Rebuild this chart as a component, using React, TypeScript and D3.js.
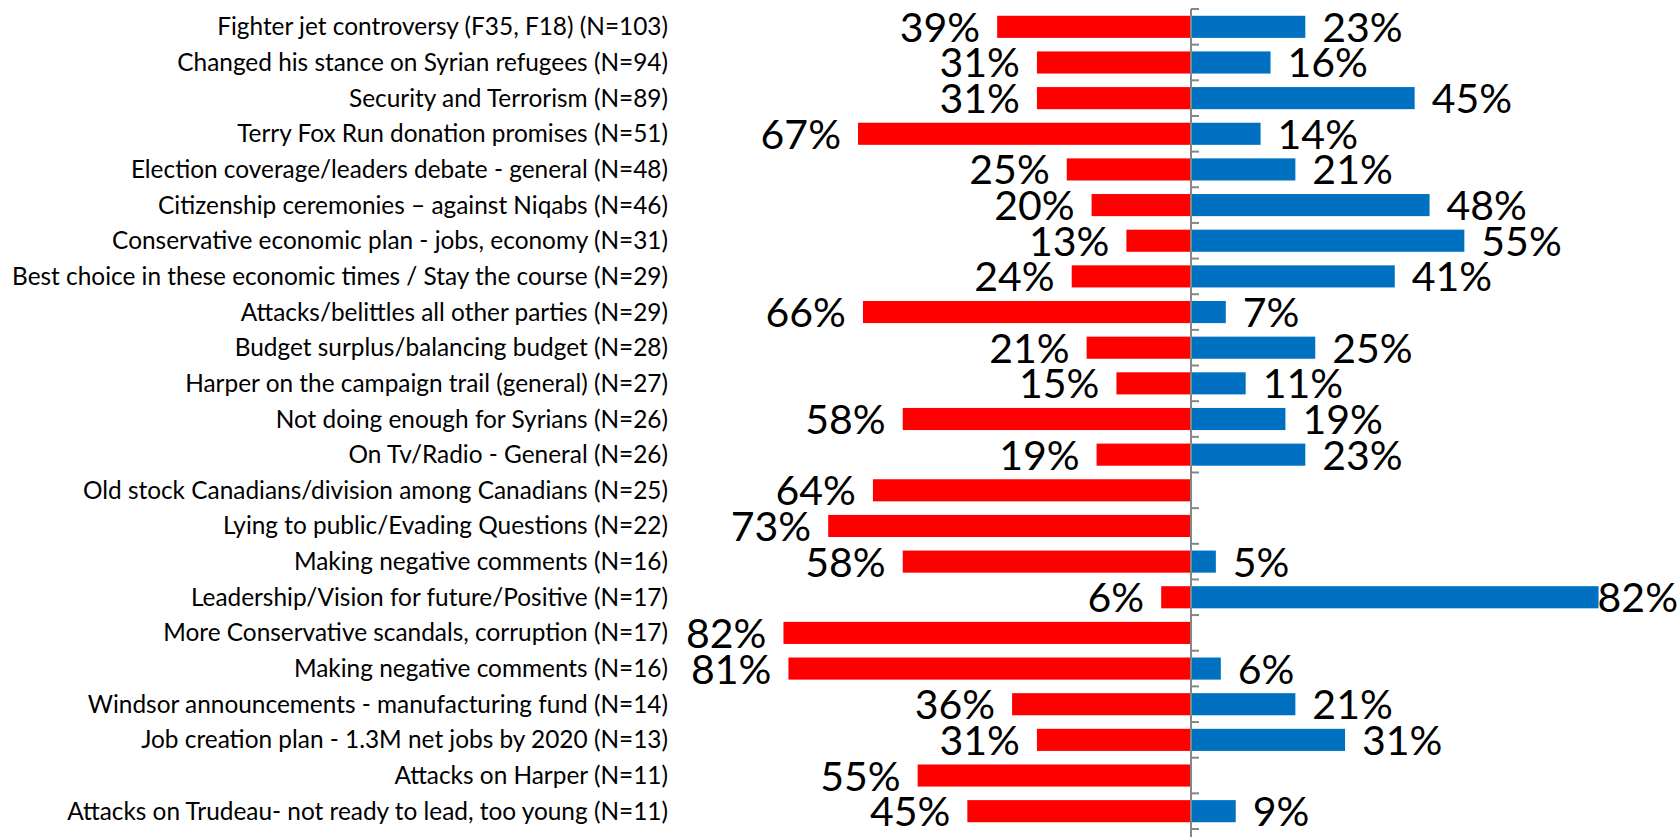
import React, { useEffect, useRef } from 'react'
import * as d3 from 'd3'

const width = 1678
const height = 837

const categories = [
  'Fighter jet controversy (F35, F18) (N=103)',
  'Changed his stance on Syrian refugees (N=94)',
  'Security and Terrorism (N=89)',
  'Terry Fox Run donation promises (N=51)',
  'Election coverage/leaders debate - general (N=48)',
  'Citizenship ceremonies – against Niqabs (N=46)',
  'Conservative economic plan - jobs, economy (N=31)',
  'Best choice in these economic times / Stay the course (N=29)',
  'Attacks/belittles all other parties (N=29)',
  'Budget surplus/balancing budget (N=28)',
  'Harper on the campaign trail (general) (N=27)',
  'Not doing enough for Syrians (N=26)',
  'On Tv/Radio - General (N=26)',
  'Old stock Canadians/division among Canadians (N=25)',
  'Lying to public/Evading Questions (N=22)',
  'Making negative comments (N=16)',
  'Leadership/Vision for future/Positive (N=17)',
  'More Conservative scandals, corruption (N=17)',
  'Making negative comments (N=16)',
  'Windsor announcements - manufacturing fund (N=14)',
  'Job creation plan - 1.3M net jobs by 2020 (N=13)',
  'Attacks on Harper (N=11)',
  'Attacks on Trudeau- not ready to lead, too young (N=11)',
]

// negative share (left, red)
const negative = [39, 31, 31, 67, 25, 20, 13, 24, 66, 21, 15, 58, 19, 64, 73, 58, 6, 82, 81, 36, 31, 55, 45]
// positive share (right, blue); null = no bar
const positive = [23, 16, 45, 14, 21, 48, 55, 41, 7, 25, 11, 19, 23, null, null, 5, 82, null, 6, 21, 31, null, 9]

const RED = '#FF0000'
const BLUE = '#0070C0'
const FONT = 'Lato, "Open Sans", sans-serif'

const axisX = 1191
const pxPerPct = 4.97
const top = 9
const bottom = 829
const labelRight = 668

export default function App() {
  const svgRef = useRef<SVGSVGElement>(null)

  useEffect(() => {
    const svg = d3.select(svgRef.current)
    svg.selectAll('*').remove()

    const rows = categories.map((c, i) => ({ i, name: c, neg: negative[i], pos: positive[i] }))

    const y = d3.scaleBand<number>()
      .domain(rows.map(d => d.i))
      .range([top, bottom])
      .paddingInner(0.38)
      .paddingOuter(0.19)

    const x = d3.scaleLinear()
      .domain([-100, 100])
      .range([axisX - 100 * pxPerPct, axisX + 100 * pxPerPct])

    const step = y.step()
    const center = (i: number) => (y(i) as number) + y.bandwidth() / 2

    // category labels
    svg.append('g')
      .selectAll('text')
      .data(rows)
      .join('text')
      .attr('x', labelRight)
      .attr('y', d => center(d.i) + 8.5)
      .attr('text-anchor', 'end')
      .attr('font-family', FONT)
      .attr('font-size', 24.4)
      .attr('fill', '#000')
      .text(d => d.name)

    // red bars
    svg.append('g')
      .selectAll('rect')
      .data(rows)
      .join('rect')
      .attr('x', d => x(-d.neg))
      .attr('y', d => y(d.i) as number)
      .attr('width', d => x(0) - x(-d.neg))
      .attr('height', y.bandwidth())
      .attr('fill', RED)

    const posRows = rows.filter(d => d.pos != null)

    // blue bars
    svg.append('g')
      .selectAll('rect')
      .data(posRows)
      .join('rect')
      .attr('x', x(0))
      .attr('y', d => y(d.i) as number)
      .attr('width', d => x(d.pos as number) - x(0))
      .attr('height', y.bandwidth())
      .attr('fill', BLUE)

    // axis line with ticks at band boundaries
    const axis = svg.append('g')
    axis.append('line')
      .attr('x1', axisX).attr('x2', axisX)
      .attr('y1', top).attr('y2', bottom + 8)
      .attr('stroke', '#868686')
      .attr('stroke-width', 2)
    axis.selectAll('line.tick')
      .data(d3.range(categories.length + 1))
      .join('line')
      .attr('class', 'tick')
      .attr('x1', axisX).attr('x2', axisX + 8)
      .attr('y1', i => top + i * step)
      .attr('y2', i => top + i * step)
      .attr('stroke', '#868686')
      .attr('stroke-width', 2)

    const labelSize = 41
    const gap = 17

    // red value labels
    svg.append('g')
      .selectAll('text')
      .data(rows)
      .join('text')
      .attr('x', d => x(-d.neg) - gap)
      .attr('y', d => center(d.i) + 15)
      .attr('text-anchor', 'end')
      .attr('font-family', FONT)
      .attr('font-size', labelSize)
      .attr('fill', '#000')
      .text(d => `${d.neg}%`)

    // blue value labels, pulled back inside the frame if they would overflow
    svg.append('g')
      .selectAll('text')
      .data(posRows)
      .join('text')
      .attr('x', d => x(d.pos as number) + gap)
      .attr('y', d => center(d.i) + 15)
      .attr('font-family', FONT)
      .attr('font-size', labelSize)
      .attr('fill', '#000')
      .text(d => `${d.pos}%`)
      .each(function () {
        const t = this as SVGTextElement
        const w = t.getComputedTextLength()
        const x0 = +t.getAttribute('x')!
        if (x0 + w > width) t.setAttribute('x', String(width - w))
      })
  }, [])

  return (
    <svg
      ref={svgRef}
      width={width}
      height={height}
      style={{ position: 'absolute', left: 0, top: 0, background: '#fff' }}
    />
  )
}
